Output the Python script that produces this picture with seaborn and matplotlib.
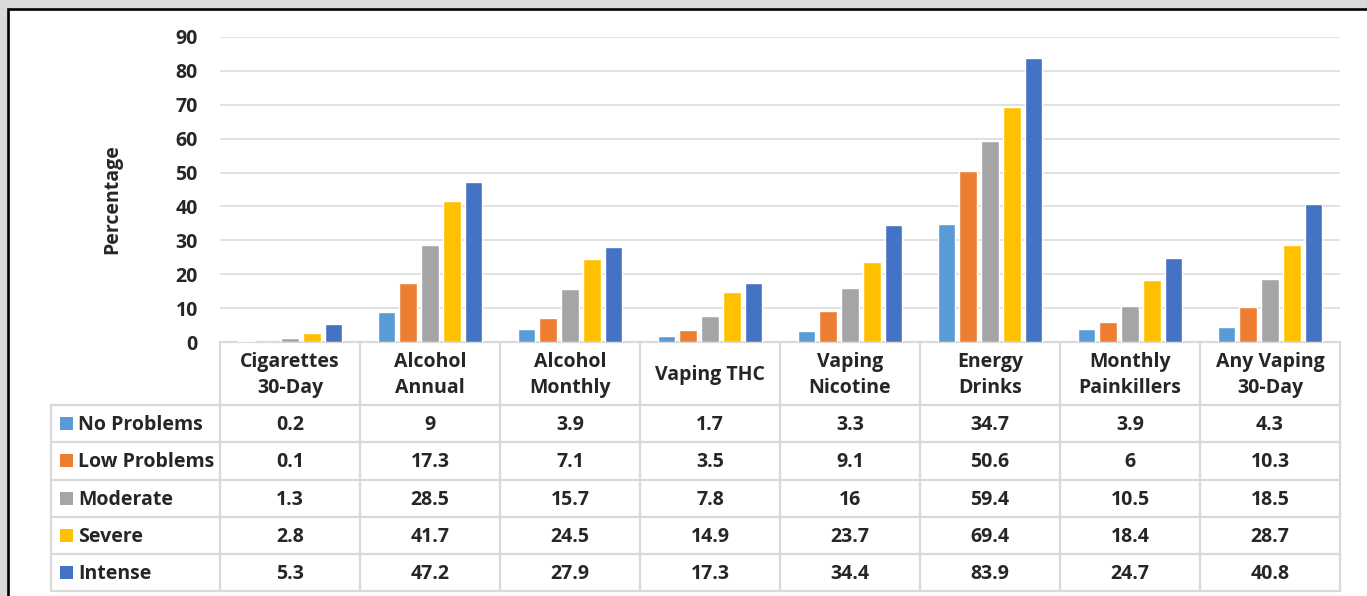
import matplotlib
matplotlib.use("Agg")
import matplotlib.pyplot as plt
from matplotlib.patches import Rectangle
from matplotlib.transforms import blended_transform_factory
import numpy as np
import pandas as pd
import seaborn as sns

# ---- data ---------------------------------------------------------------
categories = ["Cigarettes\n30-Day", "Alcohol\nAnnual", "Alcohol\nMonthly",
              "Vaping THC", "Vaping\nNicotine", "Energy\nDrinks",
              "Monthly\nPainkillers", "Any Vaping\n30-Day"]
groups = ["No Problems", "Low Problems", "Moderate", "Severe", "Intense"]
no_problems = [0.2, 9, 3.9, 1.7, 3.3, 34.7, 3.9, 4.3]
low_problems = [0.1, 17.3, 7.1, 3.5, 9.1, 50.6, 6, 10.3]
moderate = [1.3, 28.5, 15.7, 7.8, 16, 59.4, 10.5, 18.5]
severe = [2.8, 41.7, 24.5, 14.9, 23.7, 69.4, 18.4, 28.7]
intense = [5.3, 47.2, 27.9, 17.3, 34.4, 83.9, 24.7, 40.8]
colors = ["#5B9BD5", "#ED7D31", "#A5A5A5", "#FFC000", "#4472C4"]
y_ticks = [0, 10, 20, 30, 40, 50, 60, 70, 80, 90]

series = [no_problems, low_problems, moderate, severe, intense]
df = pd.DataFrame({
    "category": np.repeat([categories], len(groups), axis=0).ravel(),
    "group": np.repeat(groups, len(categories)),
    "value": np.concatenate(series),
})

# ---- figure -------------------------------------------------------------
W, H = 1367, 596
FS = 14
sns.set_theme(style="white")
plt.rcParams["font.family"] = ["Open Sans", "DejaVu Sans"]
plt.rcParams["font.weight"] = "bold"

fig = plt.figure(figsize=(W / 100, H / 100), dpi=100, facecolor="#d9d9d9")

# white chart area with a dark frame on the top and left
fig.patches.append(Rectangle((7.5 / W, -0.2), 1.2, 1 - 8.5 / H + 0.2,
                             transform=fig.transFigure, facecolor="white",
                             edgecolor="black", linewidth=1.9, zorder=-10))

ax_left, ax_right, ax_bottom, ax_top = 220, 1340, 342, 37
ax = fig.add_axes([ax_left / W, 1 - ax_bottom / H,
                   (ax_right - ax_left) / W, (ax_bottom - ax_top) / H])
ax.set_facecolor("none")

sns.barplot(data=df, x="category", y="value", hue="group", hue_order=groups,
            order=categories, palette=colors, width=0.78, gap=0.2,
            saturation=1, ax=ax, legend=False, zorder=3)

ax.set_ylim(0, 90)
ax.set_xlim(-0.5, len(categories) - 0.5)
ax.set_yticks(y_ticks)
ax.set_yticklabels([str(t) for t in y_ticks], fontsize=FS, fontweight="bold")
ax.tick_params(axis="y", length=0, pad=16)
ax.set_xticks([])
ax.set_xlabel("")
ax.set_ylabel("Percentage", fontsize=FS, fontweight="bold")
ax.yaxis.set_label_coords(-0.087, 0.469)
ax.grid(axis="y", color="#d9d9d9", linewidth=1.1, zorder=0)
for s in ax.spines.values():
    s.set_visible(False)

# ---- data table beneath the bars ---------------------------------------
tr = blended_transform_factory(ax.transData, fig.transFigure)
line_c = "#d9d9d9"
lw = 1.6


def fy(py):
    return 1 - py / H


label_left = -0.5 - (ax_left - 51) / 140.0
n = len(categories)
row_edges = [405, 442, 479.5, 517, 554, 591]

# horizontal rules
ax.plot([-0.5, n - 0.5], [fy(342)] * 2, transform=tr, color=line_c,
        lw=lw, clip_on=False, zorder=2)
for py in row_edges:
    ax.plot([label_left, n - 0.5], [fy(py)] * 2, transform=tr, color=line_c,
            lw=lw, clip_on=False)
# vertical rules
for i in range(n + 1):
    ax.plot([i - 0.5] * 2, [fy(342), fy(591)], transform=tr, color=line_c,
            lw=lw, clip_on=False)
ax.plot([label_left] * 2, [fy(405), fy(591)], transform=tr, color=line_c,
        lw=lw, clip_on=False)

# header cells
for i, cat in enumerate(categories):
    ax.text(i, fy(375), cat, transform=tr, ha="center", va="center",
            fontsize=FS, fontweight="bold", linespacing=1.45)

# rows: swatch + group name + values
sw = 13 / 140.0
for r, (g, vals, c) in enumerate(zip(groups, series, colors)):
    top, bot = row_edges[r], row_edges[r + 1]
    mid = (top + bot) / 2
    cy = fy(mid + 1.5)
    ax.add_patch(Rectangle((label_left + 9 / 140.0, fy(mid + 6.5)),
                           sw, 13 / H, transform=tr, facecolor=c,
                           edgecolor="none", clip_on=False))
    ax.text(label_left + 27 / 140.0, cy, g, transform=tr, ha="left",
            va="center", fontsize=FS, fontweight="bold")
    for i, v in enumerate(vals):
        ax.text(i, cy, f"{v:g}", transform=tr, ha="center", va="center",
                fontsize=FS, fontweight="bold")

fig.savefig("out.png", dpi=100, facecolor=fig.get_facecolor())
